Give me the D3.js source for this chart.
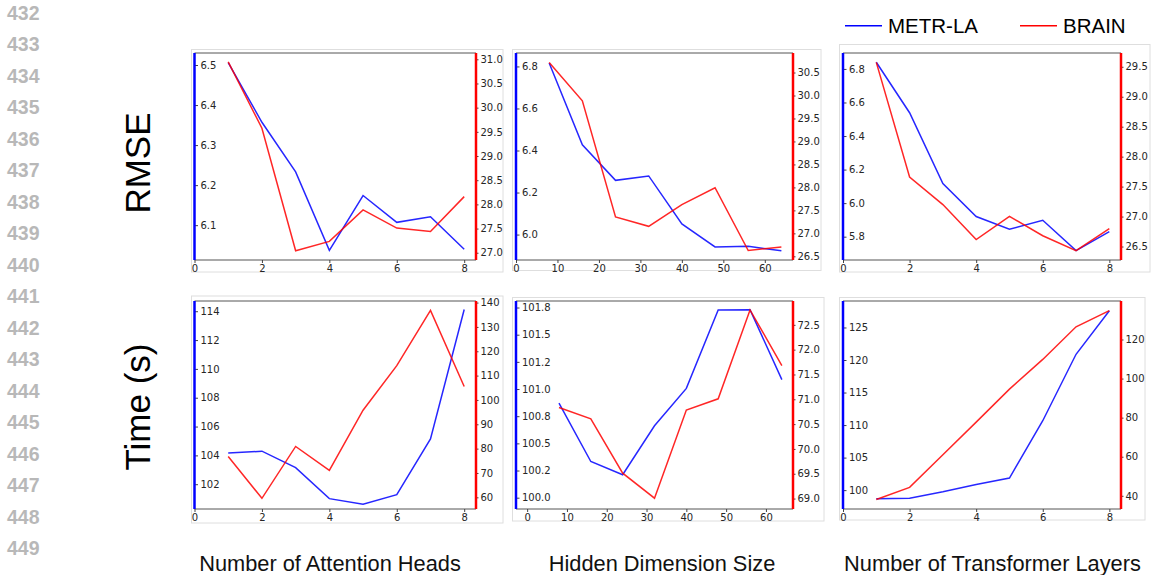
<!DOCTYPE html>
<html>
<head>
<meta charset="utf-8">
<script src="https://cdn.jsdelivr.net/npm/d3@7/dist/d3.min.js"></script>
<style>
  body { margin: 0; background: #fff; }
  svg { display: block; }
  .tick text { font-family: "DejaVu Sans", sans-serif; font-size: 10px; fill: #262626; }
</style>
</head>
<body>
<svg id="chart" width="1155" height="575"></svg>
<script>
// ---- data ----
var attnHeads  = [1, 2, 3, 4, 5, 6, 7, 8];
var hiddenDims = [8, 16, 24, 32, 40, 48, 56, 64];
var numLayers  = [1, 2, 3, 4, 5, 6, 7, 8];

var rmseAttnMetr   = [6.506, 6.357, 6.233, 6.037, 6.174, 6.107, 6.121, 6.040];
var rmseAttnBrain  = [30.945, 29.574, 27.04, 27.235, 27.887, 27.51, 27.44, 28.16];
var rmseHidMetr    = [6.816, 6.427, 6.258, 6.279, 6.051, 5.941, 5.944, 5.923];
var rmseHidBrain   = [30.72, 29.886, 27.357, 27.153, 27.627, 27.993, 26.627, 26.705];
var rmseLayerMetr  = [6.84, 6.539, 6.117, 5.92, 5.844, 5.898, 5.717, 5.83];
var rmseLayerBrain = [29.574, 27.66, 27.2, 26.616, 27.003, 26.68, 26.432, 26.8];

var timeAttnMetr   = [104.16, 104.29, 103.15, 101.0, 100.61, 101.27, 105.14, 114.12];
var timeAttnBrain  = [76.8, 59.6, 80.9, 71.1, 95.8, 114.1, 136.8, 105.5];
var timeHidMetr    = [100.871, 100.333, 100.211, 100.662, 101.006, 101.727, 101.73, 101.086];
var timeHidBrain   = [70.835, 70.607, 69.512, 69.008, 70.782, 71.01, 72.8, 71.68];
var timeLayerMetr  = [98.66, 98.76, 99.74, 100.88, 101.86, 110.67, 120.88, 127.57];
var timeLayerBrain = [38.09, 44.3, 61.0, 77.7, 94.6, 109.8, 126.5, 134.8];

// axis limits
var xLimSmall = [0, 8.35];
var xLimHid   = [0, 66.8];
var xLimHid2  = [-2.8, 66.8];

// tick values / labels
var xTicksSmall = [0, 2, 4, 6, 8];
var xTicksHid   = [0, 10, 20, 30, 40, 50, 60];
var hidTimeLabels = ["100.0", "100.2", "100.5", "100.8", "101.0", "101.2", "101.5", "101.8"];

var rowTitles = ["RMSE", "Time (s)"];
var colTitles = ["Number of Attention Heads", "Hidden Dimension Size", "Number of Transformer Layers"];
var seriesNames = ["METR-LA", "BRAIN"];
var lineNumbers = d3.range(432, 450);

var panels = [
  { row: 0, col: 0, x: attnHeads, xLim: xLimSmall, xTicks: xTicksSmall,
    blue: rmseAttnMetr, blueLim: [6.013, 6.530], blueTicks: [6.1, 6.2, 6.3, 6.4, 6.5],
    red: rmseAttnBrain, redLim: [26.85, 31.13], redTicks: d3.range(27, 31.01, 0.5) },
  { row: 0, col: 1, x: hiddenDims, xLim: xLimHid, xTicks: xTicksHid,
    blue: rmseHidMetr, blueLim: [5.879, 6.864], blueTicks: [6.0, 6.2, 6.4, 6.6, 6.8],
    red: rmseHidBrain, redLim: [26.42, 30.925], redTicks: d3.range(26.5, 30.51, 0.5) },
  { row: 0, col: 2, x: numLayers, xLim: xLimSmall, xTicks: xTicksSmall,
    blue: rmseLayerMetr, blueLim: [5.661, 6.895], blueTicks: [5.8, 6.0, 6.2, 6.4, 6.6, 6.8],
    red: rmseLayerBrain, redLim: [26.275, 29.73], redTicks: d3.range(26.5, 29.51, 0.5) },
  { row: 1, col: 0, x: attnHeads, xLim: xLimSmall, xTicks: xTicksSmall,
    blue: timeAttnMetr, blueLim: [100.28, 114.71], blueTicks: d3.range(102, 114.1, 2), blueFmt: d3.format("d"),
    red: timeAttnBrain, redLim: [55.2, 140.65], redTicks: d3.range(60, 140.1, 10), redFmt: d3.format("d") },
  { row: 1, col: 1, x: hiddenDims, xLim: xLimHid2, xTicks: xTicksHid,
    blue: timeHidMetr, blueLim: [99.896, 101.81], blueTicks: d3.range(100, 101.76, 0.25),
    blueFmt: function(d, i) { return hidTimeLabels[i]; },
    red: timeHidBrain, redLim: [68.79, 72.98], redTicks: d3.range(69, 72.51, 0.5) },
  { row: 1, col: 2, x: numLayers, xLim: xLimSmall, xTicks: xTicksSmall,
    blue: timeLayerMetr, blueLim: [97.1, 129.07], blueTicks: d3.range(100, 125.1, 5), blueFmt: d3.format("d"),
    red: timeLayerBrain, redLim: [33.25, 139.7], redTicks: d3.range(40, 120.1, 20), redFmt: d3.format("d") }
];

// ---- layout ----
var colLeft  = [194.5, 516, 843];
var colRight = [476, 793, 1121];
var rowTop   = [53, 301];
var rowBot   = [260, 509];
var frames = [
  [[191.5, 49.5, 503, 272], [512.5, 49.5, 821, 270.5], [839.5, 44.5, 1150, 272]],
  [[191.5, 296, 503, 523], [512.5, 297.5, 824, 521], [839.5, 297.5, 1145, 520]]
];

var svg = d3.select("#chart");

// line numbers on the left margin
svg.append("g").selectAll("text")
  .data(lineNumbers)
  .enter().append("text")
    .attr("x", 7)
    .attr("y", function(d, i) { return 20 + i * 31.47; })
    .style("font-family", "'Liberation Sans', Arial, sans-serif")
    .style("font-size", "19.5px")
    .style("font-weight", "bold")
    .style("fill", "#b8b8b8")
    .text(function(d) { return d; });

// row titles
[163, 407].forEach(function(cy, i) {
  svg.append("text")
    .attr("transform", "translate(150," + cy + ") rotate(-90)")
    .attr("text-anchor", "middle")
    .style("font-family", "'Liberation Sans', Arial, sans-serif")
    .style("font-size", "35px")
    .style("fill", "#000")
    .text(rowTitles[i]);
});

// column titles
[330, 662, 992.5].forEach(function(cx, i) {
  svg.append("text")
    .attr("x", cx).attr("y", 571)
    .attr("text-anchor", "middle")
    .style("font-family", "'Liberation Sans', Arial, sans-serif")
    .style("font-size", "21.8px")
    .style("fill", "#111")
    .text(colTitles[i]);
});

// legend
var legend = svg.append("g");
[[845, "blue"], [1020, "red"]].forEach(function(l, i) {
  legend.append("line")
    .attr("x1", l[0]).attr("x2", l[0] + 37)
    .attr("y1", 25.7).attr("y2", 25.7)
    .attr("stroke", l[1]).attr("stroke-width", 1.6);
  legend.append("text")
    .attr("x", l[0] + 43).attr("y", 33.3)
    .style("font-family", "'Liberation Sans', Arial, sans-serif")
    .style("font-size", "20.5px")
    .style("fill", "#000")
    .text(seriesNames[i]);
});

panels.forEach(function(p) {
  var x0 = colLeft[p.col], x1 = colRight[p.col];
  var y0 = rowTop[p.row], y1 = rowBot[p.row];
  var f = frames[p.row][p.col];
  var g = svg.append("g");

  g.append("rect")
    .attr("x", f[0]).attr("y", f[1])
    .attr("width", f[2] - f[0]).attr("height", f[3] - f[1])
    .attr("fill", "none").attr("stroke", "#dedede").attr("stroke-width", 1);

  var x = d3.scaleLinear().domain(p.xLim).range([x0, x1]);
  var yB = d3.scaleLinear().domain(p.blueLim).range([y1, y0]);
  var yR = d3.scaleLinear().domain(p.redLim).range([y1, y0]);

  // top / bottom spines
  g.append("line").attr("x1", x0).attr("x2", x1).attr("y1", y0).attr("y2", y0)
    .attr("stroke", "#555").attr("stroke-width", 1);
  g.append("line").attr("x1", x0).attr("x2", x1).attr("y1", y1).attr("y2", y1)
    .attr("stroke", "#555").attr("stroke-width", 1);

  // x axis
  var xa = g.append("g")
    .attr("transform", "translate(0," + y1 + ")")
    .call(d3.axisBottom(x).tickValues(p.xTicks).tickSize(3).tickPadding(2).tickFormat(d3.format("d")));
  xa.select(".domain").remove();
  xa.selectAll(".tick line").attr("stroke", "#444");

  // left (blue) axis, ticks inside
  var ba = g.append("g")
    .attr("transform", "translate(" + x0 + ",0)")
    .call(d3.axisRight(yB).tickValues(p.blueTicks).tickSize(3.5).tickPadding(2.5)
      .tickFormat(p.blueFmt || d3.format(".1f")));
  ba.select(".domain").remove();
  ba.selectAll(".tick line").attr("stroke", "#444");

  // right (red) axis
  var ra = g.append("g")
    .attr("transform", "translate(" + x1 + ",0)")
    .call(d3.axisRight(yR).tickValues(p.redTicks).tickSize(2.5).tickPadding(2)
      .tickFormat(p.redFmt || d3.format(".1f")));
  ra.select(".domain").remove();
  ra.selectAll(".tick line").attr("stroke", "#444");

  // series lines
  var lineB = d3.line().x(function(d, i) { return x(p.x[i]); }).y(function(d) { return yB(d); });
  var lineR = d3.line().x(function(d, i) { return x(p.x[i]); }).y(function(d) { return yR(d); });
  g.append("path").datum(p.blue).attr("d", lineB)
    .attr("fill", "none").attr("stroke", "blue").attr("stroke-width", 1.5).attr("opacity", 0.85);
  g.append("path").datum(p.red).attr("d", lineR)
    .attr("fill", "none").attr("stroke", "red").attr("stroke-width", 1.5).attr("opacity", 0.85);

  // coloured spines
  g.append("line").attr("x1", x0).attr("x2", x0).attr("y1", y0).attr("y2", y1)
    .attr("stroke", "blue").attr("stroke-width", 2.5);
  g.append("line").attr("x1", x1).attr("x2", x1).attr("y1", y0).attr("y2", y1)
    .attr("stroke", "red").attr("stroke-width", 2.5);
});
</script>
</body>
</html>
